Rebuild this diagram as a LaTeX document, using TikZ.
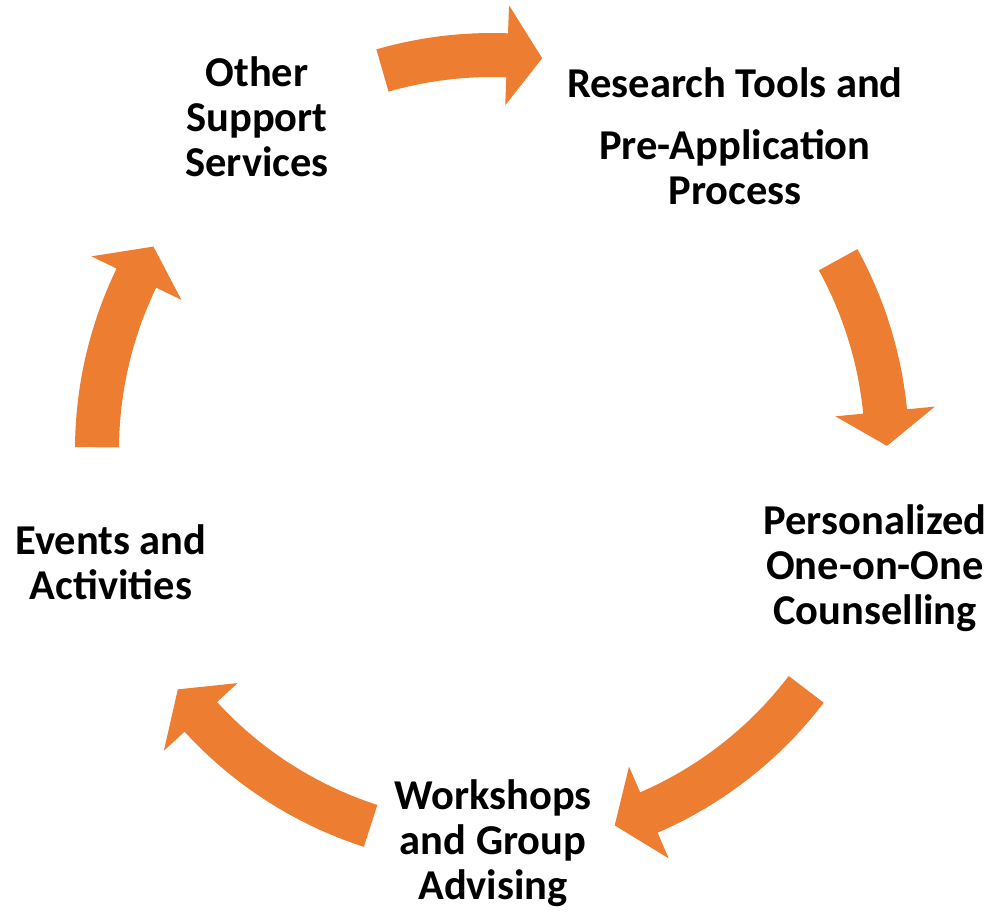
\documentclass[tikz,border=0pt]{standalone}
\usepackage{fontspec}
\setmainfont{Carlito}

\definecolor{cycorange}{HTML}{ED7D31}

% curved block arrow on the cycle: tail angle, neck angle, tip angle
\newcommand{\cyclearrow}[3]{%
  \fill[cycorange] plot[domain=#1:#2,samples=40] ({492+417*cos(\x)},{450-417*sin(\x)})
    -- ({492+445*cos(#2)},{450-445*sin(#2)})
    -- ({492+395*cos(#3)},{450-395*sin(#3)})
    -- ({492+345*cos(#2)},{450-345*sin(#2)})
    -- plot[domain=#2:#1,samples=40] ({492+373*cos(\x)},{450-373*sin(\x)}) -- cycle;}

\begin{document}
\begin{tikzpicture}[x=0.02cm,y=-0.02cm,
  lbl/.style={font=\bfseries\fontsize{24.2}{25.6}\selectfont,align=center,anchor=base,inner sep=0pt}]
  \useasboundingbox (0,0) rectangle (990,914);

  % arrows
  \cyclearrow{106.1}{87.8}{82.7}
  \cyclearrow{28.8}{5.6}{0.6}
  \cyclearrow{-37.3}{-66.6}{-71.9}
  \cyclearrow{-107.9}{-137.5}{-142.7}
  \cyclearrow{179.6}{154.2}{149}

  % labels (anchored at the baseline of the last line)
  \node[lbl] (other) at (257,176) {Other\\Support\\Services};
  \node[lbl] (research) at (735,97) {Research Tools and};
  \node[lbl] (preapp) at (735,204) {Pre-Application\\Process};
  \node[lbl] (personal) at (875,624) {Personalized\\One-on-One\\Counselling};
  \node[lbl] (workshops) at (493,899) {Workshops\\and Group\\Advising};
  \node[lbl] (events) at (111,599) {Events and\\Activities};
\end{tikzpicture}
\end{document}
